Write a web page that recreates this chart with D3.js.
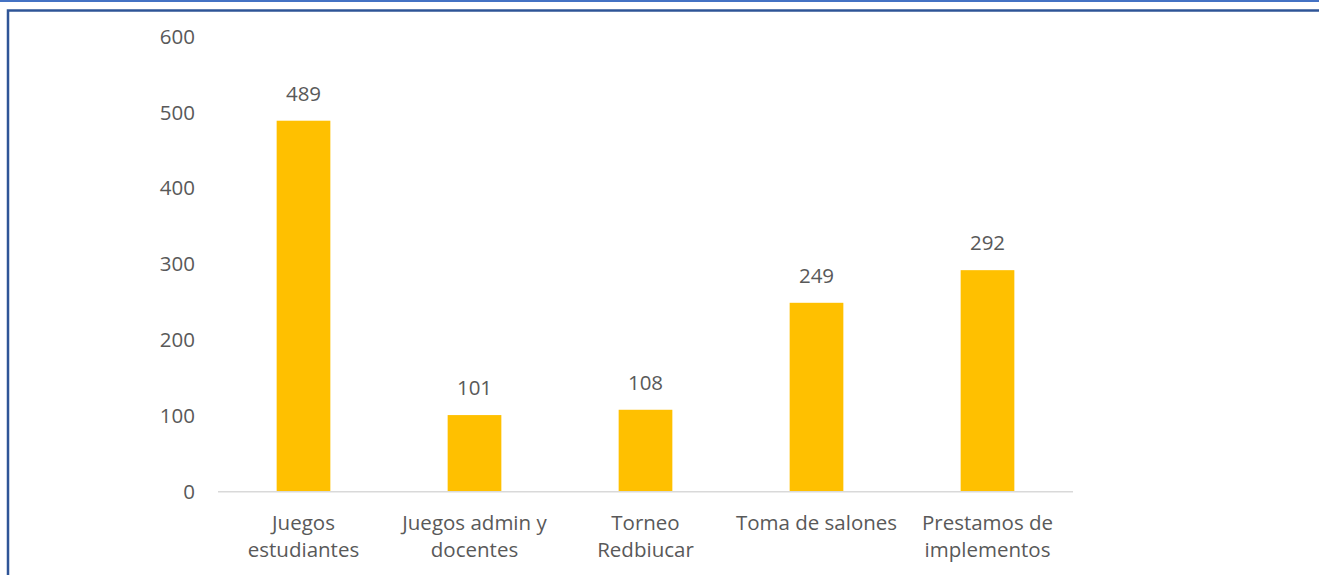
<!DOCTYPE html>
<html><head><meta charset="utf-8">
<script src="https://cdn.jsdelivr.net/npm/d3@7"></script>
<style>html,body{margin:0;padding:0;background:#fff;overflow:hidden}</style>
</head><body>
<svg id="c" width="1319" height="575"></svg>
<script>
const categories = [["Juegos","estudiantes"],["Juegos admin y","docentes"],["Torneo","Redbiucar"],["Toma de salones"],["Prestamos de","implementos"]];
const values = [489, 101, 108, 249, 292];
const yTicks = [0, 100, 200, 300, 400, 500, 600];

const svg = d3.select("#c");
const font = "'Open Sans', sans-serif";
const fs = 20.5;
const txt = "#595959";

// frame
svg.append("line").attr("x1",0).attr("x2",1319).attr("y1",1).attr("y2",1).attr("stroke","#4472C4").attr("stroke-width",2);
svg.append("path").attr("d","M8,575 V10.5 H1319").attr("fill","none").attr("stroke","#2F5597").attr("stroke-width",2.5);

const x = d3.scaleBand().domain(d3.range(categories.length)).range([218, 1073]).paddingInner(0.686).paddingOuter(0.343);
const y = d3.scaleLinear().domain([0, 600]).range([491.7, 36.5]);

// y labels
svg.append("g").selectAll("text").data(yTicks).join("text")
  .attr("x", 195).attr("y", d => y(d)).attr("dy","0.35em")
  .attr("text-anchor","end").attr("font-family",font).attr("font-size",fs).attr("fill",txt)
  .text(d => d);

// bars
svg.append("g").selectAll("rect").data(values).join("rect")
  .attr("x",(d,i)=>x(i)).attr("width",x.bandwidth())
  .attr("y",d=>y(d)).attr("height",d=>y(0)-y(d)).attr("fill","#FFC000");

// axis line
svg.append("line").attr("x1",218).attr("x2",1073).attr("y1",y(0)).attr("y2",y(0)).attr("stroke","#D9D9D9").attr("stroke-width",1.5);

// value labels
svg.append("g").selectAll("text").data(values).join("text")
  .attr("x",(d,i)=>x(i)+x.bandwidth()/2).attr("y",d=>y(d)-27).attr("dy","0.35em")
  .attr("text-anchor","middle").attr("font-family",font).attr("font-size",fs).attr("fill",txt)
  .text(d=>d);

// category labels
const cg = svg.append("g").selectAll("text").data(categories).join("text")
  .attr("x",(d,i)=>x(i)+x.bandwidth()/2).attr("y",523).attr("dy","0.35em")
  .attr("text-anchor","middle").attr("font-family",font).attr("font-size",fs).attr("fill",txt);
cg.selectAll("tspan").data(d=>d).join("tspan")
  .attr("x",function(){return this.parentNode.getAttribute("x");})
  .attr("dy",(d,i)=>i===0?"0.35em":27)
  .text(d=>d);
</script>
</body></html>
